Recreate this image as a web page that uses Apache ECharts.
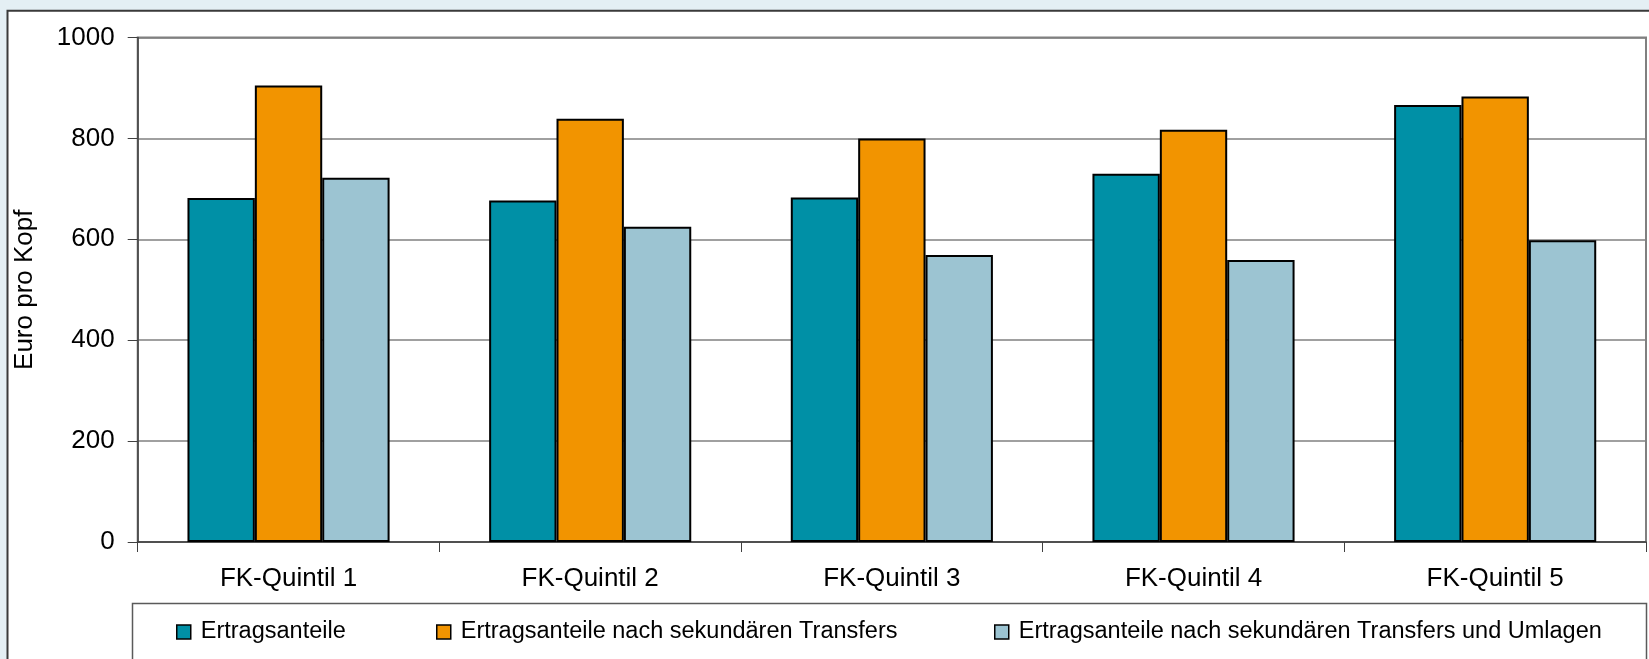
<!DOCTYPE html>
<html>
<head>
<meta charset="utf-8">
<script src="https://cdn.jsdelivr.net/npm/echarts@6/dist/echarts.min.js"></script>
<style>
  html, body { margin: 0; padding: 0; background: #E4EFF4; }
  #chart { width: 1649px; height: 659px; }
</style>
</head>
<body>
<div id="chart"></div>
<script>
// Quintile groups on the x axis
const categories = ['FK-Quintil 1', 'FK-Quintil 2', 'FK-Quintil 3', 'FK-Quintil 4', 'FK-Quintil 5'];

// Series names
const seriesNames = [
  'Ertragsanteile',
  'Ertragsanteile nach sekundären Transfers',
  'Ertragsanteile nach sekundären Transfers und Umlagen'
];

// Euro per capita
const ertragsanteile = [682, 677, 683, 730, 866];
const nachTransfers = [905, 839, 800, 817, 883];
const nachTransfersUmlagen = [722, 625, 569, 559, 598];

// Y axis scale
const yTicks = [0, 200, 400, 600, 800, 1000];

const colors = ['#0090A6', '#F29400', '#9CC4D2'];
const FONT = '"Liberation Sans", Arial, sans-serif';

const chart = echarts.init(document.getElementById('chart'), null, { renderer: 'canvas' });

const seriesData = [ertragsanteile, nachTransfers, nachTransfersUmlagen];
const legendLeft = [176, 436, 994];

chart.setOption({
  backgroundColor: '#E4EFF4',
  animation: false,
  textStyle: { fontFamily: FONT },
  graphic: [
    {
      type: 'rect', z: -10, silent: true,
      shape: { x: 7.5, y: 10.8, width: 1700, height: 700 },
      style: { fill: '#FFFFFF', stroke: '#3A3A3A', lineWidth: 2 }
    },
    {
      type: 'rect', z: -5, silent: true,
      shape: { x: 132.5, y: 603.5, width: 1514, height: 100 },
      style: { fill: '#FFFFFF', stroke: '#5A5A5A', lineWidth: 1.5 }
    }
  ],
  grid: {
    left: 137.7, top: 37.5, right: 3, bottom: 117,
    show: true, backgroundColor: '#FFFFFF', borderColor: '#808080', borderWidth: 2,
    containLabel: false
  },
  legend: seriesNames.map((n, i) => ({
    data: [n],
    left: legendLeft[i],
    top: 620,
    padding: 0,
    itemWidth: 14,
    itemHeight: 14,
    icon: 'rect',
    itemStyle: { borderColor: '#000', borderWidth: 1.5 },
    textStyle: { fontSize: 23.5, color: '#000', fontFamily: FONT, padding: [0, 0, 0, 5] },
    selectedMode: false
  })),
  xAxis: {
    type: 'category',
    data: categories,
    boundaryGap: true,
    axisLine: { show: true, lineStyle: { color: '#404040', width: 1.5 } },
    axisTick: { show: true, length: 10, lineStyle: { color: '#404040', width: 1 } },
    axisLabel: { fontSize: 26, color: '#000', margin: 24, fontFamily: FONT }
  },
  yAxis: {
    type: 'value',
    min: yTicks[0],
    max: yTicks[yTicks.length - 1],
    interval: yTicks[1] - yTicks[0],
    name: 'Euro pro Kopf',
    nameLocation: 'middle',
    nameRotate: 90,
    nameGap: 100,
    nameTextStyle: { fontSize: 26, color: '#000', fontFamily: FONT },
    axisLine: { show: true, lineStyle: { color: '#404040', width: 1.5 } },
    axisTick: { show: true, length: 10, lineStyle: { color: '#404040', width: 1 } },
    axisLabel: {
      fontSize: 26, color: '#000', margin: 23, fontFamily: FONT,
      formatter: (v) => String(v)
    },
    splitLine: { show: true, lineStyle: { color: '#808080', width: 1.5 } }
  },
  series: seriesNames.map((n, i) => ({
    name: n,
    type: 'bar',
    data: seriesData[i],
    barGap: '0%',
    barCategoryGap: '33%',
    itemStyle: { color: colors[i], borderColor: '#000', borderWidth: 2 }
  }))
});
</script>
</body>
</html>
